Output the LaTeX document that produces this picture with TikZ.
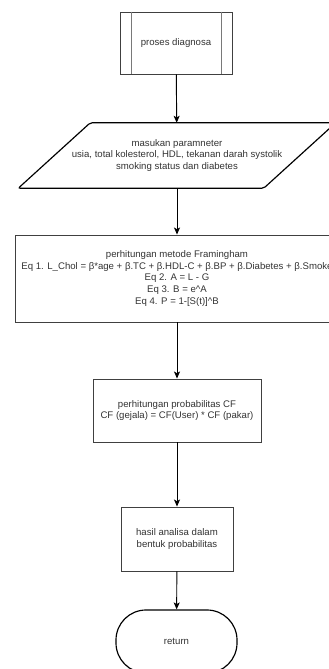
\documentclass[tikz,border=0pt]{standalone}
\usepackage{fontspec}
\setmainfont{Liberation Sans}
\usetikzlibrary{calc}
\usetikzlibrary{arrows.meta}
\definecolor[named]{FlowLine}{gray}{0.25}
\definecolor[named]{FlowText}{gray}{0.2}
\newcommand{\flowfont}{\fontsize{8.2}{9.9}\selectfont}
\tikzset{
  box/.style={draw=FlowLine,line width=0.8pt,text=FlowText,align=center,
    inner sep=0pt,font=\flowfont},
  proc/.style={box},
  iobox/.style={text=FlowText,align=center,inner sep=0pt,font=\flowfont},
  term/.style={box,draw=black,line width=1pt,rounded corners=9mm},
  flow/.style={draw=black,line width=0.8pt,-{Stealth[length=2.1mm,width=1.8mm,inset=0.5mm]}}
}

\begin{document}
\begin{tikzpicture}[x=0.3mm,y=-0.3mm]
    \useasboundingbox (0,0) rectangle (328,669);

    % Nodes
    \node[proc,minimum width=112*0.3mm,minimum height=62*0.3mm] (P) at (176,43) {proses diagnosa};
    \node[iobox,minimum width=245*0.3mm,minimum height=65*0.3mm] (I) at (177,155.5)
      {masukan paramneter\\usia, total kolesterol, HDL, tekanan darah systolik\\smoking status dan diabetes};
    \node[box,minimum width=324*0.3mm,minimum height=87*0.3mm] (F) at (177,278.5)
      {perhitungan metode Framingham\\
       Eq 1. L\_Chol = β*age + β.TC + β.HDL-C + β.BP + β.Diabetes + β.Smoke\\
       Eq 2. A = L - G\\
       Eq 3. B = e\textasciicircum A\\
       Eq 4. P = 1-[S(t)]\textasciicircum B};
    \node[box,minimum width=168*0.3mm,minimum height=63*0.3mm] (C) at (177,410.5)
      {perhitungan probabilitas CF\\CF (gejala) = CF(User) * CF (pakar)};
    \node[box,minimum width=112*0.3mm,minimum height=64*0.3mm] (H) at (177,539)
      {hasil analisa dalam\\bentuk probabilitas};
    \node[term,minimum width=121*0.3mm,minimum height=63*0.3mm] (R) at (176.5,641.5) {return};

    % Side bars of the process box
    \draw[FlowLine!70,line width=0.8pt]
      ($(P.north west)+(12,0)$) -- ($(P.south west)+(12,0)$)
      ($(P.north east)+(-11,0)$) -- ($(P.south east)+(-11,0)$);

    % Input parallelogram
    \draw[black,line width=1pt,rounded corners=0.6mm]
      ($(I.south west)+(-36,0)$) -- ($(I.south east)+(-36,0)$) --
      ($(I.north east)+(36,0)$) -- ($(I.north west)+(36,0)$) -- cycle;

    % Connectors
    \draw[flow] (P) -- (I);
    \draw[flow] (I) -- (F);
    \draw[flow] (F) -- (C);
    \draw[flow] (C) -- (H);
    \draw[flow] (H) -- (R);
\end{tikzpicture}
\end{document}
